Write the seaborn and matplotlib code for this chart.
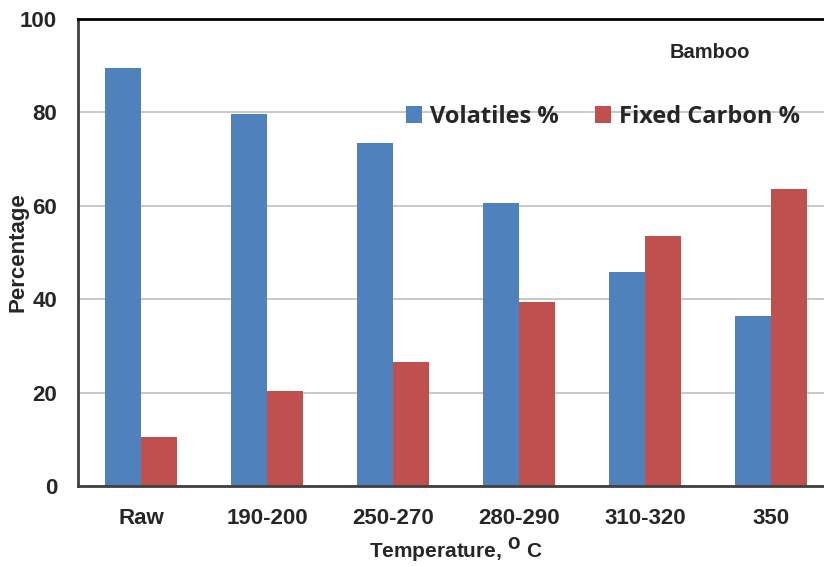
import numpy as np
import pandas as pd
import matplotlib
matplotlib.use("Agg")
import matplotlib.pyplot as plt
import seaborn as sns
sns.set_style("white")
plt.rcParams['font.family'] = ['Liberation Sans', 'DejaVu Sans']

# data
temperatures = ["Raw", "190-200", "250-270", "280-290", "310-320", "350"]
volatiles = [89.6, 79.6, 73.4, 60.5, 45.9, 36.4]
fixed_carbon = [10.4, 20.4, 26.6, 39.5, 53.6, 63.6]
series_names = ["Volatiles %", "Fixed Carbon %"]
colors = ["#4F81BD", "#C0504D"]

df = pd.DataFrame({
    "temp": temperatures * 2,
    "value": volatiles + fixed_carbon,
    "series": [series_names[0]] * len(temperatures) + [series_names[1]] * len(temperatures),
})

fig = plt.figure(figsize=(8.24, 5.67), dpi=100)
# axes runs past the right edge like the original
ax = fig.add_axes([78 / 824, 81 / 567, 756 / 824, 467 / 567])

sns.barplot(data=df, x="temp", y="value", hue="series", palette=colors,
            width=0.57, saturation=1, linewidth=0, ax=ax, legend=True)

ax.set_ylim(0, 100)
ax.set_xlim(-0.5, 5.5)
ax.set_yticks([0, 20, 40, 60, 80, 100])
ax.yaxis.grid(True, color="#BFBFBF", linewidth=1.2)
ax.set_axisbelow(True)
for s in ["left", "bottom"]:
    ax.spines[s].set_color("#404040")
    ax.spines[s].set_linewidth(2)
ax.spines["top"].set_color("black")
ax.spines["top"].set_linewidth(2)
ax.spines["right"].set_visible(False)
ax.tick_params(length=0)
ax.tick_params(axis="y", pad=15)
ax.tick_params(axis="x", pad=16)
for lab in ax.get_xticklabels() + ax.get_yticklabels():
    lab.set_fontsize(16)
    lab.set_fontweight("bold")

ax.set_xlabel(r"Temperature, $^{\mathbf{O}}$ C", fontsize=15, fontweight="bold", labelpad=5)
ax.set_ylabel("Percentage", fontsize=16, fontweight="bold")
ax.yaxis.set_label_coords(-0.066, 0.5)

leg = ax.legend(title=None, loc="center", bbox_to_anchor=(603 / 824, 1 - 117 / 567),
                bbox_transform=fig.transFigure, ncol=2, frameon=False,
                prop={"family": "Open Sans", "weight": "bold", "size": 17},
                handlelength=0.7, handleheight=0.7, handletextpad=0.35, columnspacing=1.5)
for h in leg.legend_handles:
    h.set_linewidth(0)

fig.text(710 / 824, 1 - 52 / 567, "Bamboo", ha="center", va="center",
         fontsize=14.5, fontweight="bold")

fig.savefig("out.png", dpi=100)
